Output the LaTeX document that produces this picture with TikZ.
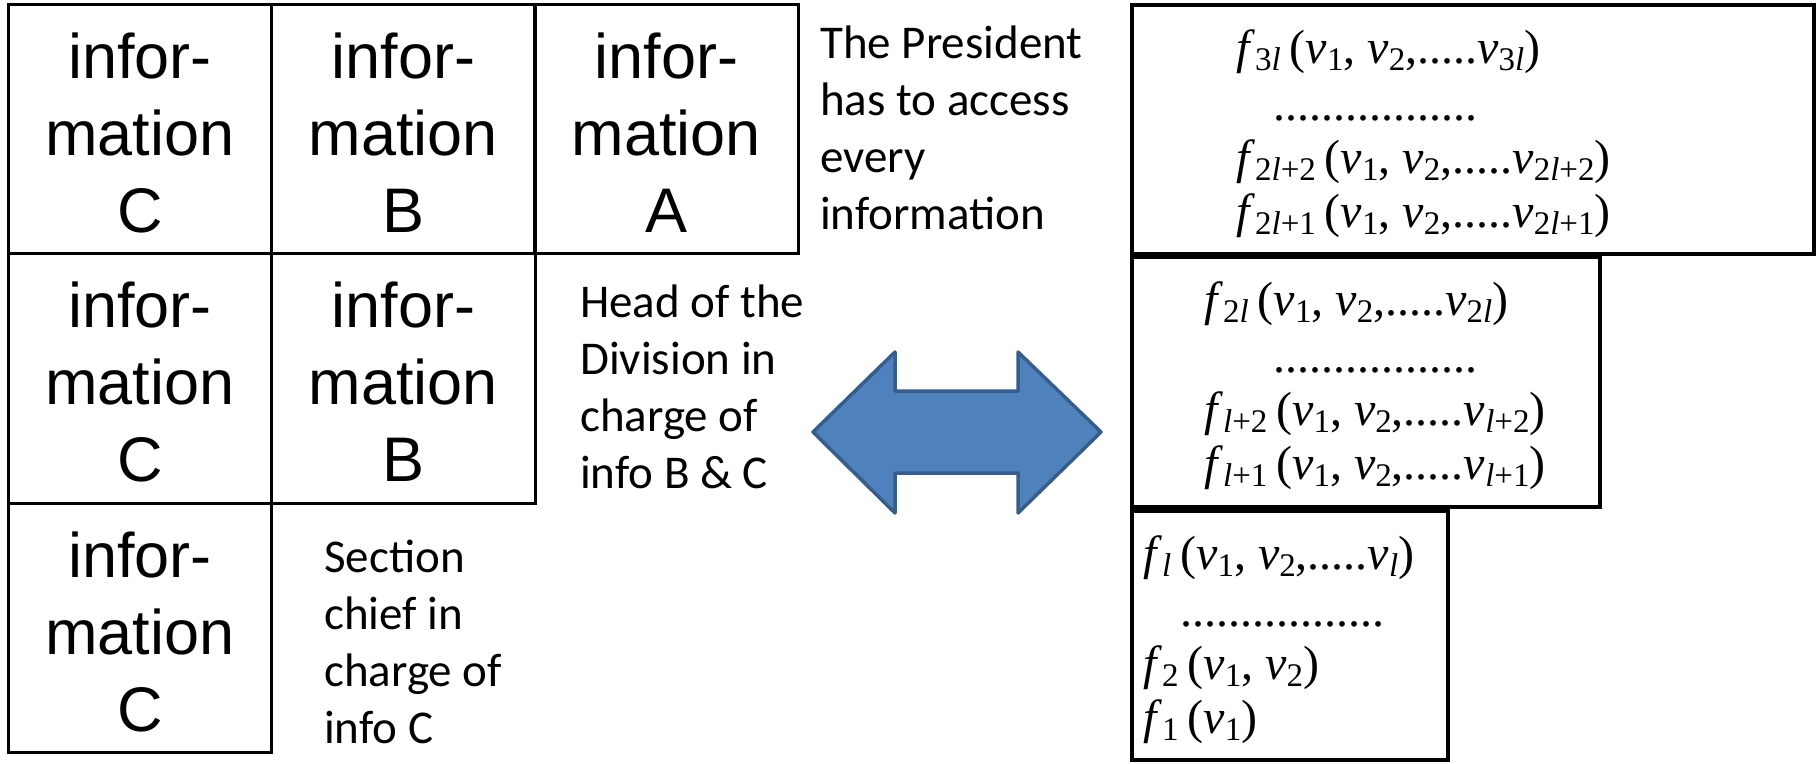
\documentclass[tikz,border=0pt]{standalone}
\usepackage{fontspec}
\setmainfont{Liberation Serif}
\newfontfamily\arialf{Liberation Sans}
\newfontfamily\calf{Carlito}
\newfontfamily\timesf{Liberation Serif}
% stacked lines with fixed baselines; the box baseline is the first line
\newcommand{\stack}[2]{\begin{tabular}[t]{@{}#1@{}}#2\end{tabular}}
% formula helpers
\newcommand{\sbs}[1]{\raisebox{-7pt}{\fontsize{33}{33}\selectfont #1}}
\newcommand{\vv}[1]{\textit{v}\sbs{#1}}
\newcommand{\fx}[2]{\textit{f}\sbs{#1}\hspace{9pt}(#2)}
\newcommand{\il}{\textit{l}}
\definecolor{arrowfill}{HTML}{4F81BD}
\definecolor{arrowline}{HTML}{385D8A}
\begin{document}
\begin{tikzpicture}[x=1pt,y=-1pt,
  cell/.style={draw=black,line width=2.6pt,minimum width=263.5pt,minimum height=249.5pt,inner sep=0pt},
  celltext/.style={anchor=base,inner sep=0pt,font=\arialf\fontsize{63}{77}\selectfont},
  note/.style={anchor=base west,inner sep=0pt,font=\calf\fontsize{47}{57}\selectfont},
  frame/.style={draw=black,line width=3.5pt},
  formula/.style={anchor=base west,inner sep=0pt,font=\timesf\fontsize{48}{48}\selectfont}]
\useasboundingbox (0,0) rectangle (1817,763);

% information grid
\node[cell] (c11) at (140,129) {};
\node[cell] (c12) at (403.5,129) {};
\node[cell] (c13) at (666.5,129) {};
\node[cell] (c21) at (140,378.5) {};
\node[cell] (c22) at (403.5,378.5) {};
\node[cell] (c31) at (140,628) {};

\node[celltext] (t11) at (140,78) {\stack{c}{infor-\\mation\\C}};
\node[celltext] (t12) at (403.5,78) {\stack{c}{infor-\\mation\\B}};
\node[celltext] (t13) at (666.5,78) {\stack{c}{infor-\\mation\\A}};
\node[celltext] (t21) at (140,327.5) {\stack{c}{infor-\\mation\\C}};
\node[celltext] (t22) at (403.5,327.5) {\stack{c}{infor-\\mation\\B}};
\node[celltext] (t31) at (140,577) {\stack{c}{infor-\\mation\\C}};

% role notes
\node[note] (president) at (820,58) {\stack{l}{The President\\has to access\\every\\information}};
\node[note] (head) at (580,317) {\stack{l}{Head of the\\Division in\\charge of\\info B \& C}};
\node[note] (section) at (324,572) {\stack{l}{Section\\chief in\\charge of\\info C}};

% two-way block arrow
\draw[line width=3.5pt,line join=round,draw=arrowline,fill=arrowfill]
  (813,432) -- (895,352) -- (895,391) -- (1018,391) -- (1018,352) -- (1101,432)
  -- (1018,513) -- (1018,473) -- (895,473) -- (895,513) -- cycle;

% function frames
\node[frame,minimum width=682pt,minimum height=249pt,inner sep=0pt] (top) at (1473,129.5) {};
\node[frame,minimum width=468pt,minimum height=250pt,inner sep=0pt] (mid) at (1366,382) {};
\node[frame,minimum width=316pt,minimum height=249pt,inner sep=0pt] (low) at (1290,635.5) {};

\node[formula] (f3l) at (1236,63) {\fx{3\il}{\vv{1}, \vv{2},.....\vv{3\il}}};
\node[formula] (d1) at (1273,120) {.................};
\node[formula] (f2l2) at (1236,173) {\fx{2\il+2}{\vv{1}, \vv{2},.....\vv{2\il+2}}};
\node[formula] (f2l1) at (1236,227) {\fx{2\il+1}{\vv{1}, \vv{2},.....\vv{2\il+1}}};

\node[formula] (f2l) at (1204,315) {\fx{2\il}{\vv{1}, \vv{2},.....\vv{2\il}}};
\node[formula] (d2) at (1273,372) {.................};
\node[formula] (fl2) at (1204,425) {\fx{\il+2}{\vv{1}, \vv{2},.....\vv{\il+2}}};
\node[formula] (fl1) at (1204,479) {\fx{\il+1}{\vv{1}, \vv{2},.....\vv{\il+1}}};

\node[formula] (fl) at (1143,569) {\fx{\il}{\vv{1}, \vv{2},.....\vv{\il}}};
\node[formula] (d3) at (1180,626) {.................};
\node[formula] (f2) at (1143,679) {\fx{2}{\vv{1}, \vv{2}}};
\node[formula] (f1) at (1143,733) {\fx{1}{\vv{1}}};
\end{tikzpicture}
\end{document}
